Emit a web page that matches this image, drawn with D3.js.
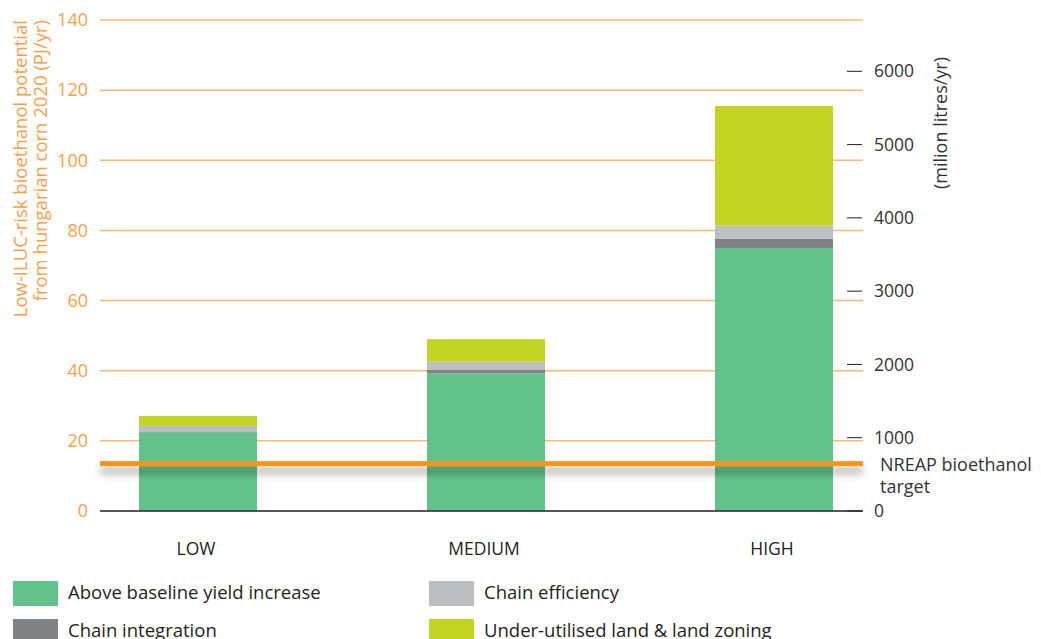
<!DOCTYPE html>
<html>
<head>
<meta charset="utf-8">
<script src="https://cdn.jsdelivr.net/npm/d3@7"></script>
<style>
  body { margin: 0; background: #fff; }
  svg text { font-family: "Open Sans", "Noto Sans", sans-serif; }
</style>
</head>
<body>
<div id="chart"></div>
<script>
// data (PJ/yr)
var scenarios = ["LOW", "MEDIUM", "HIGH"];
var seriesNames = ["Above baseline yield increase", "Chain integration", "Chain efficiency", "Under-utilised land & land zoning"];
var yieldIncrease = [22.5, 39.3, 75.0];
var chainIntegration = [0, 0.9, 2.6];
var chainEfficiency = [1.8, 2.4, 3.8];
var underUtilised = [2.8, 6.4, 34.1];
var leftTicks = [0, 20, 40, 60, 80, 100, 120, 140];
var rightTicks = [0, 1000, 2000, 3000, 4000, 5000, 6000];
var nreapTarget = 13.5;

var width = 1041, height = 639;
var colors = ["#63c28c", "#808285", "#bcbec0", "#c1d424"];
var orange = "#f7a04b";
var dark = "#231f20";

var svg = d3.select("#chart").append("svg")
  .attr("width", width).attr("height", height);

// soft shadow under the target line
var f = svg.append("defs").append("filter").attr("id", "shadow")
  .attr("filterUnits", "userSpaceOnUse")
  .attr("x", 80).attr("y", 440).attr("width", 800).attr("height", 60);
f.append("feGaussianBlur").attr("in", "SourceAlpha").attr("stdDeviation", 4).attr("result", "b");
f.append("feOffset").attr("in", "b").attr("dy", 7).attr("result", "o");
f.append("feComponentTransfer").attr("in", "o").attr("result", "s")
  .append("feFuncA").attr("type", "linear").attr("slope", 0.4);
var fm = f.append("feMerge");
fm.append("feMergeNode").attr("in", "s");
fm.append("feMergeNode").attr("in", "SourceGraphic");

var y = d3.scaleLinear().domain([0, 140]).range([511, 20]);
var yR = d3.scaleLinear().domain([0, 6700]).range([511, 20]);
var x = d3.scaleBand().domain(scenarios).range([54, 918])
  .paddingInner(0.59).paddingOuter(0.295);

// gridlines
svg.append("g").selectAll("line").data(leftTicks.slice(1)).join("line")
  .attr("x1", 100).attr("x2", 863)
  .attr("y1", d => y(d)).attr("y2", d => y(d))
  .attr("stroke", "#fbb873").attr("stroke-width", 1.5);

// left axis labels
svg.append("g").selectAll("text").data(leftTicks).join("text")
  .attr("x", 88).attr("y", d => y(d)).attr("dy", "0.35em")
  .attr("text-anchor", "end").attr("font-size", 18)
  .attr("fill", orange)
  .text(d => d);

svg.append("text")
  .attr("transform", "translate(27,20) rotate(-90)")
  .attr("text-anchor", "end").attr("font-size", 18.5).attr("fill", orange)
  .text("Low-ILUC-risk bioethanol potential");
svg.append("text")
  .attr("transform", "translate(47,20) rotate(-90)")
  .attr("text-anchor", "end").attr("font-size", 18.5).attr("fill", orange)
  .text("from hungarian corn 2020 (PJ/yr)");

// stacked bars
var rows = scenarios.map((s, i) => ({
  key: s,
  s0: yieldIncrease[i], s1: chainIntegration[i], s2: chainEfficiency[i], s3: underUtilised[i]
}));
var layers = d3.stack().keys(["s0", "s1", "s2", "s3"])(rows);

svg.append("g").selectAll("g").data(layers).join("g")
  .attr("fill", (d, i) => colors[i])
  .selectAll("rect").data(d => d).join("rect")
  .attr("x", d => x(d.data.key))
  .attr("width", x.bandwidth())
  .attr("y", d => y(d[1]))
  .attr("height", d => y(d[0]) - y(d[1]));

// baseline
svg.append("line").attr("x1", 100).attr("x2", 863)
  .attr("y1", y(0)).attr("y2", y(0))
  .attr("stroke", dark).attr("stroke-width", 1.5);

// right axis
var ra = svg.append("g");
ra.selectAll("line").data(rightTicks).join("line")
  .attr("x1", 847).attr("x2", 862)
  .attr("y1", d => yR(d)).attr("y2", d => yR(d))
  .attr("stroke", dark).attr("stroke-width", 1);
ra.selectAll("text").data(rightTicks).join("text")
  .attr("x", 874).attr("y", d => yR(d)).attr("dy", "0.35em")
  .attr("font-size", 17.5).attr("fill", "#333")
  .text(d => d);
svg.append("text")
  .attr("transform", "translate(947,123) rotate(-90)")
  .attr("text-anchor", "middle").attr("font-size", 18).attr("fill", "#333")
  .text("(milion litres/yr)");

// NREAP target line
svg.append("rect").attr("x", 100).attr("width", 763)
  .attr("y", y(nreapTarget) - 2.5).attr("height", 5)
  .attr("fill", "#f7941d")
  .attr("filter", "url(#shadow)");
svg.append("text").attr("y", 471)
  .attr("font-size", 18).attr("fill", "#333")
  .call(t => {
    t.append("tspan").attr("x", 880).text("NREAP bioethanol");
    t.append("tspan").attr("x", 880).attr("dy", 22).text("target");
  });

// category labels
svg.append("g").selectAll("text").data(scenarios).join("text")
  .attr("x", d => x(d) + x.bandwidth() / 2 - 2).attr("y", 555)
  .attr("text-anchor", "middle").attr("font-size", 17.5).attr("fill", dark)
  .text(d => d);

// legend
var legendPos = [[13, 581], [13, 619], [429, 581], [429, 619]];
var leg = svg.append("g").selectAll("g").data(seriesNames).join("g")
  .attr("transform", (d, i) => `translate(${legendPos[i][0]},${legendPos[i][1]})`);
leg.append("rect").attr("width", 45).attr("height", 25)
  .attr("fill", (d, i) => colors[i]);
leg.append("text").attr("x", 55).attr("y", 12).attr("dy", "0.35em")
  .attr("font-size", 18.5).attr("fill", dark)
  .text(d => d);
</script>
</body>
</html>
